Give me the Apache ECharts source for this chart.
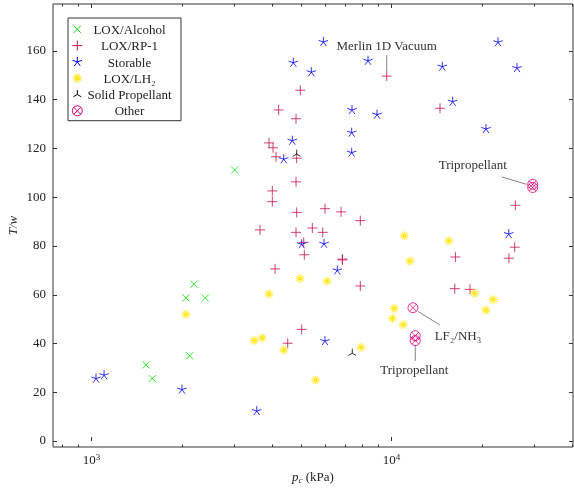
<!DOCTYPE html>
<html><head><meta charset="utf-8">
<script src="https://cdn.jsdelivr.net/npm/echarts@6/dist/echarts.min.js"></script>
<style>html,body{margin:0;padding:0;background:#fff}#c{width:574px;height:488px}</style>
</head><body><div id="c"></div>
<script>
// ---- data ----
const loxAlcohol = [[3000,111.2],[2065,58.7],[2193,64.3],[2395,58.7],[2125,35.0],[1519,31.2],[1594,25.6]];
const loxRP1 = [[4966,143.9],[4205,135.8],[4805,132.2],[3906,122.3],[4027,120.3],[4121,116.6],[4829,116.0],[4805,106.3],[4006,102.6],[4006,98.2],[4829,93.8],[3645,86.6],[6001,95.3],[6790,94.0],[4805,85.6],[5445,87.4],[5899,85.6],[5097,81.5],[5121,76.4],[6858,74.3],[6858,74.6],[4090,70.6],[5018,45.8],[4508,40.1],[7870,90.4],[7870,63.6],[16330,75.5],[16250,62.5],[18270,62.2],[9638,149.7],[14510,136.5],[25870,96.7],[25740,79.5],[24630,75.0]];
const storable = [[1035,25.6],[1101,27.0],[2002,21.1],[3554,12.3],[4707,155.2],[5404,151.3],[4670,123.2],[4372,115.6],[5927,163.7],[8350,156.0],[14770,153.6],[7383,135.8],[8947,133.9],[15990,139.2],[7366,126.5],[7366,118.3],[22650,163.6],[26200,153.0],[20650,128.0],[24590,84.9],[5018,80.7],[5958,80.9],[6596,70.0],[6001,41.0]];
const loxLH2 = [[2065,52.0],[3906,60.3],[4954,66.6],[6095,65.6],[3488,41.2],[3707,42.3],[4372,37.3],[5587,25.0],[7913,38.4],[11030,84.2],[11520,73.8],[15520,82.1],[10210,54.4],[10070,50.3],[10940,47.7],[18930,60.6],[20650,53.7],[21800,58.0]];
const solidProp = [[4829,117.7],[7400,36.0]];
const other = [[11790,54.7],[12000,43.2],[12000,41.2],[29560,105.3],[29560,104.0]];
const seriesNames = ['LOX/Alcohol','LOX/RP-1','Storable','LOX/LH₂','Solid Propellant','Other'];
const yTicks = [0,20,40,60,80,100,120,140,160];
const xMajor = [1000,10000];
const xMinor = [800,900,2000,3000,4000,5000,6000,7000,8000,9000,20000,30000,40000];
const annTexts = ['Merlin 1D Vacuum','Tripropellant','LF₂/NH₃','Tripropellant'];
const annAnchors = [[9638,149.7],[29560,104.65],[11790,54.7],[12000,42.2]];
const xRange = [744, 40270];
const yRange = [-2.46, 179.28];

// ---- styles ----
const FONT = '"Liberation Serif", "DejaVu Serif", serif';
const colors = ['#00e000','#c8114b','#0000ff','#ffe600','#000000','#e5007d'];
const sizes = [7, 10, 10, 9, 9, 10];
const annLayout = [
  {dx:0, dy:-30, l1:[0,-21], l2:[0,-5]},
  {dx:-60, dy:-20, l1:[-31,-9], l2:[-6,-1.5]},
  {dx:45, dy:28.5, l1:[5.3,4], l2:[27,17.3]},
  {dx:-1, dy:32, l1:[0,7], l2:[0,22.7]}
];
const LEG = {left:68, top:18, iconX:77.3, row0:29.3, rowStep:16.3};
// marker shapes: straight segments in a 10x10 box (+ optional circle)
const symSegs = [
  {segs:[[0,0,10,10],[10,0,0,10]]},
  {segs:[[5,0,5,10],[0,5,10,5]]},
  {segs:[[5,5,5,0],[5,5,9.755,3.455],[5,5,0.245,3.455],[5,5,2.061,9.045],[5,5,7.939,9.045]]},
  {segs:[[5,0,5,10],[0,5,10,5],[0.67,2.5,9.33,7.5],[0.67,7.5,9.33,2.5],[2.5,0.67,7.5,9.33],[2.5,9.33,7.5,0.67]]},
  {segs:[[5,5,5,0],[5,5,0.67,7.5],[5,5,9.33,7.5]]},
  {segs:[[1.46,1.46,8.54,8.54],[8.54,1.46,1.46,8.54]], circle:true}
];
function symPath(s) {
  let d = 'M0,0M10,10';
  if (s.circle) d += 'M10,5A5,5 0 1 1 0,5A5,5 0 1 1 10,5Z';
  s.segs.forEach(q => { d += 'M' + q[0] + ',' + q[1] + 'L' + q[2] + ',' + q[3]; });
  return 'path://' + d;
}
function mk(i, data) {
  return {
    name: seriesNames[i], type:'scatter', data, symbol:symPath(symSegs[i]), symbolSize:sizes[i],
    xAxisIndex:0, yAxisIndex:0,
    itemStyle:{color:'rgba(0,0,0,0)', borderColor:colors[i], borderWidth:1},
    emphasis:{disabled:true}
  };
}
const lg = Math.log10;
const baseVal = (extra) => Object.assign({
  type:'value', min:lg(xRange[0]), max:lg(xRange[1]), axisLine:{show:false},
  splitLine:{show:false}, axisLabel:{show:false}
}, extra);

const chart = echarts.init(document.getElementById('c'), null, {renderer:'canvas'});
const option = {
  animation:false,
  backgroundColor:'#fff',
  grid:{left:53, top:4, right:1, bottom:41, show:true, borderColor:'#333', borderWidth:1,
        backgroundColor:'transparent', containLabel:false, outerBoundsMode:'none'},
  legend:{
    orient:'vertical', left:LEG.left, top:LEG.top, padding:[6,9,2.2,4], itemGap:3.3, itemWidth:10, itemHeight:10,
    backgroundColor:'#fff', borderColor:'#333', borderWidth:1, borderRadius:0,
    icon:'none',
    data: seriesNames,
    formatter: n => '{c|' + n + '}',
    textStyle:{fontFamily:FONT, fontSize:13, color:'#222',
      rich:{c:{width:85, align:'center', fontFamily:FONT, fontSize:13, lineHeight:13, color:'#222'}}}
  },
  xAxis:[
    {type:'log', logBase:10, min:xRange[0], max:xRange[1], axisLine:{show:false}, axisTick:{show:false},
     axisLabel:{show:false}, splitLine:{show:false},
     name:'{i|p}{s|c} (kPa)', nameLocation:'middle', nameGap:24, nameMoveOverlap:false,
     nameTextStyle:{fontFamily:FONT, fontSize:13, color:'#222',
       rich:{i:{fontStyle:'italic', fontFamily:FONT, fontSize:13}, s:{fontStyle:'italic', fontFamily:FONT, fontSize:9, verticalAlign:'bottom', padding:[5,0,0,0]}}}},
    baseVal({position:'bottom', axisTick:{show:true, inside:true, length:4, customValues:xMajor.map(lg), lineStyle:{color:'#333'}},
      axisLabel:{show:true, customValues:xMajor.map(lg), margin:6, fontFamily:FONT, fontSize:13, color:'#222',
        formatter: v => '10{sup|' + Math.round(v) + '}',
        rich:{sup:{fontSize:9, fontFamily:FONT, verticalAlign:'top', padding:[0,0,7,0], color:'#222'}}}}),
    baseVal({position:'bottom', axisTick:{show:true, inside:true, length:2.5, customValues:xMinor.map(lg), lineStyle:{color:'#333'}}}),
    baseVal({position:'top', axisTick:{show:true, inside:true, length:4, customValues:xMajor.map(lg), lineStyle:{color:'#333'}}}),
    baseVal({position:'top', axisTick:{show:true, inside:true, length:2.5, customValues:xMinor.map(lg), lineStyle:{color:'#333'}}})
  ],
  yAxis:[
    {type:'value', min:yRange[0], max:yRange[1], position:'left', axisLine:{show:false}, splitLine:{show:false},
     axisTick:{show:true, inside:true, length:4, customValues:yTicks, lineStyle:{color:'#333'}},
     axisLabel:{customValues:yTicks, margin:7, fontFamily:FONT, fontSize:13, color:'#222'},
     name:'T/w', nameLocation:'middle', nameGap:33, nameRotate:90, nameMoveOverlap:false,
     nameTextStyle:{fontFamily:FONT, fontSize:13, fontStyle:'italic', color:'#222'}},
    {type:'value', min:yRange[0], max:yRange[1], position:'right', axisLine:{show:false}, splitLine:{show:false},
     axisTick:{show:true, inside:true, length:4, customValues:yTicks, lineStyle:{color:'#333'}},
     axisLabel:{show:false}}
  ],
  series:[
    mk(0, loxAlcohol), mk(1, loxRP1), mk(2, storable), mk(3, loxLH2), mk(4, solidProp), mk(5, other)
  ]
};
chart.setOption(option);

const g = [];
annAnchors.forEach((a, i) => {
  const p = chart.convertToPixel({seriesIndex:0}, a);
  const s = annLayout[i];
  g.push({type:'line', silent:true, shape:{x1:p[0]+s.l1[0], y1:p[1]+s.l1[1], x2:p[0]+s.l2[0], y2:p[1]+s.l2[1]},
          style:{stroke:'#777', lineWidth:0.9}});
  g.push({type:'text', silent:true, x:p[0]+s.dx, y:p[1]+s.dy,
          style:{text:annTexts[i], align:'center', verticalAlign:'middle', font:'13px ' + FONT, fill:'#333'}});
});
// legend icons drawn with the same marker shapes as the series
seriesNames.forEach((n, i) => {
  const sz = sizes[i], k = sz / 10;
  const ox = LEG.iconX - sz / 2, oy = LEG.row0 + i * LEG.rowStep - sz / 2;
  const s = symSegs[i];
  s.segs.forEach(q => g.push({type:'line', silent:true, z:100,
    shape:{x1:ox + q[0]*k, y1:oy + q[1]*k, x2:ox + q[2]*k, y2:oy + q[3]*k},
    style:{stroke:colors[i], lineWidth:1}}));
  if (s.circle) g.push({type:'circle', silent:true, z:100,
    shape:{cx:ox + 5*k, cy:oy + 5*k, r:5*k}, style:{fill:'none', stroke:colors[i], lineWidth:1}});
});
chart.setOption({graphic:g});
</script>
</body></html>
